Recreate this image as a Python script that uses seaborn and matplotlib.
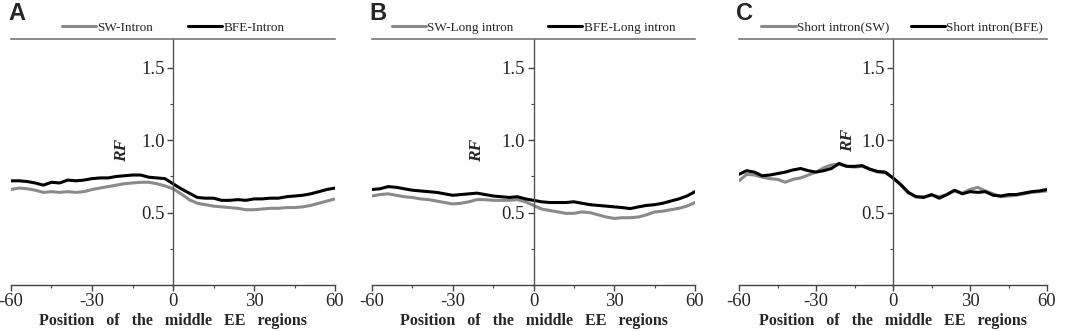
import numpy as np
import pandas as pd
import matplotlib
matplotlib.use('Agg')
import matplotlib.pyplot as plt
from matplotlib.ticker import MultipleLocator
import seaborn as sns

sns.set_style('white')
plt.rcParams['font.family'] = ['Liberation Serif', 'DejaVu Serif']
plt.rcParams['axes.unicode_minus'] = False

# positions relative to the middle EE region
pos = list(range(-60, 61, 3))

# panel A
a_sw = [0.66, 0.67, 0.665, 0.655, 0.64, 0.645, 0.64, 0.645, 0.64, 0.645, 0.66, 0.67, 0.68, 0.69,
        0.70, 0.705, 0.71, 0.71, 0.70, 0.685, 0.665, 0.63, 0.59, 0.565, 0.555, 0.545, 0.54, 0.535,
        0.53, 0.52, 0.52, 0.525, 0.53, 0.53, 0.535, 0.535, 0.54, 0.55, 0.565, 0.58, 0.595]
a_bfe = [0.72, 0.72, 0.715, 0.705, 0.69, 0.71, 0.705, 0.725, 0.72, 0.725, 0.735, 0.74, 0.74, 0.75,
         0.755, 0.76, 0.76, 0.745, 0.74, 0.735, 0.70, 0.665, 0.635, 0.605, 0.60, 0.60, 0.585, 0.585,
         0.59, 0.585, 0.595, 0.595, 0.60, 0.60, 0.61, 0.615, 0.62, 0.63, 0.645, 0.66, 0.67]

# panel B
b_sw = [0.615, 0.625, 0.63, 0.62, 0.61, 0.605, 0.595, 0.59, 0.58, 0.57, 0.56, 0.565, 0.575, 0.59,
        0.59, 0.585, 0.585, 0.585, 0.59, 0.575, 0.55, 0.525, 0.515, 0.505, 0.495, 0.495, 0.505, 0.50,
        0.485, 0.47, 0.46, 0.465, 0.465, 0.47, 0.485, 0.505, 0.51, 0.52, 0.53, 0.545, 0.57]
b_bfe = [0.66, 0.665, 0.68, 0.675, 0.665, 0.655, 0.65, 0.645, 0.64, 0.63, 0.62, 0.625, 0.63, 0.635,
         0.625, 0.615, 0.61, 0.605, 0.61, 0.595, 0.585, 0.575, 0.57, 0.57, 0.57, 0.575, 0.565, 0.555,
         0.55, 0.545, 0.54, 0.535, 0.528, 0.54, 0.55, 0.555, 0.565, 0.58, 0.595, 0.615, 0.645]

# panel C
c_sw = [0.72, 0.765, 0.76, 0.745, 0.735, 0.73, 0.71, 0.73, 0.74, 0.76, 0.78, 0.81, 0.83, 0.835,
        0.82, 0.815, 0.82, 0.80, 0.78, 0.775, 0.74, 0.69, 0.635, 0.61, 0.61, 0.62, 0.61, 0.625,
        0.65, 0.635, 0.66, 0.675, 0.65, 0.63, 0.61, 0.615, 0.62, 0.63, 0.64, 0.645, 0.65]
c_bfe = [0.765, 0.79, 0.78, 0.755, 0.76, 0.77, 0.78, 0.795, 0.805, 0.79, 0.78, 0.79, 0.805, 0.84,
         0.82, 0.82, 0.825, 0.80, 0.785, 0.78, 0.74, 0.695, 0.64, 0.61, 0.605, 0.625, 0.60, 0.625,
         0.655, 0.63, 0.645, 0.64, 0.645, 0.62, 0.615, 0.625, 0.625, 0.635, 0.645, 0.65, 0.66]

panels = [
    ('A', 'SW-Intron', 'BFE-Intron', a_sw, a_bfe, (11, 335), (-19, 0.93), 0.5, 2.6),
    ('B', 'SW-Long intron', 'BFE-Long intron', b_sw, b_bfe, (372, 695), (-21, 0.93), 0.5, 2.6),
    ('C', 'Short intron(SW)', 'Short intron(BFE)', c_sw, c_bfe, (739, 1047), (-17.5, 1.0), 0.53, 1.6),
]

W, H = 1072, 331
fig = plt.figure(figsize=(W / 100, H / 100), dpi=100)

for letter, sw_name, bfe_name, sw, bfe, (x0, x1), rf_xy, leg_x, col_sp in panels:
    ax = fig.add_axes([x0 / W, (H - 285) / H, (x1 - x0) / W, (285 - 39) / H])
    df = pd.DataFrame({
        'pos': pos * 2,
        'rf': sw + bfe,
        'series': [sw_name] * len(pos) + [bfe_name] * len(pos),
    })
    sns.lineplot(data=df, x='pos', y='rf', hue='series',
                 palette={sw_name: '#8a8a8a', bfe_name: '#000000'},
                 linewidth=2.2, ax=ax)
    ax.set_xlim(-60, 60)
    ax.set_ylim(0, 1.7)

    ax.spines['left'].set_position(('data', 0))
    ax.spines['left'].set_color('#555555')
    ax.spines['left'].set_linewidth(1.0)
    ax.spines['right'].set_visible(False)
    ax.spines['top'].set_color('#777777')
    ax.spines['top'].set_linewidth(1.2)
    ax.spines['bottom'].set_color('#444444')
    ax.spines['bottom'].set_linewidth(1.0)

    ax.xaxis.set_major_locator(MultipleLocator(30))
    ax.xaxis.set_minor_locator(MultipleLocator(15))
    ax.yaxis.set_minor_locator(MultipleLocator(0.25))
    ax.set_yticks([0.5, 1.0, 1.5])
    ax.tick_params(axis='both', which='both', direction='out', color='#444444',
                   bottom=True, left=True, top=False, right=False)
    ax.tick_params(axis='both', which='major', length=4, width=1, labelsize=13.5, pad=2)
    ax.tick_params(axis='both', which='minor', length=2.5, width=0.8)

    ax.set_xlabel('Position   of   the   middle   EE   regions',
                  fontsize=11.5, fontweight='bold', labelpad=2)
    ax.set_ylabel('')
    ax.text(rf_xy[0], rf_xy[1], 'RF', rotation=90, fontsize=12.5, fontweight='bold',
            fontstyle='italic', ha='center', va='center')

    handles, labels = ax.get_legend_handles_labels()
    ax.legend(handles, labels, loc='lower center', bbox_to_anchor=(leg_x, 0.995), ncol=2,
              frameon=False, fontsize=9.5, handlelength=2.6, handletextpad=0.1,
              columnspacing=col_sp, borderaxespad=0.1)

    fig.text((x0 - 3) / W, 1 - 2 / H, letter, ha='left', va='top', fontsize=17,
             fontweight='bold', family=['Liberation Sans', 'DejaVu Sans'])

fig.savefig('out.png', dpi=100)
